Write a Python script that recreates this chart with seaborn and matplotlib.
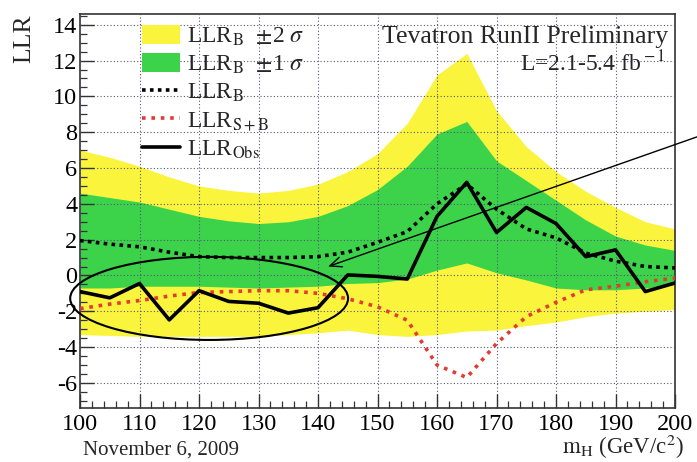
import matplotlib
matplotlib.use("Agg")
import matplotlib.pyplot as plt
import numpy as np
import pandas as pd
import seaborn as sns
from matplotlib.patches import Ellipse, Patch
from matplotlib.lines import Line2D
from matplotlib.ticker import MultipleLocator

# ---- data ----
mass = [100, 105, 110, 115, 120, 125, 130, 135, 140, 145, 150,
        155, 160, 165, 170, 175, 180, 185, 190, 195, 200]
llr_obs = [-0.9, -1.25, -0.45, -2.48, -0.85, -1.45, -1.55, -2.1, -1.8, 0.03, -0.05,
           -0.2, 3.3, 5.2, 2.4, 3.8, 2.9, 1.05, 1.43, -0.9, -0.42]
llr_b = [1.95, 1.75, 1.6, 1.3, 1.05, 1.0, 1.0, 1.0, 1.05, 1.3, 1.85,
         2.45, 4.0, 5.1, 3.7, 2.6, 2.1, 1.25, 0.8, 0.5, 0.42]
llr_sb = [-1.85, -1.6, -1.4, -1.15, -0.95, -0.9, -0.85, -0.85, -1.0, -1.3, -1.75,
          -2.5, -5.0, -5.7, -3.8, -2.3, -1.5, -0.8, -0.6, -0.35, -0.15]
b_p2 = [7.0, 6.6, 6.1, 5.5, 5.0, 4.75, 4.6, 4.75, 5.1, 5.8, 6.8,
        8.5, 11.2, 12.4, 9.2, 7.2, 5.8, 4.7, 3.8, 3.0, 2.6]
b_p1 = [4.6, 4.35, 4.1, 3.7, 3.3, 3.05, 2.9, 3.0, 3.3, 3.9, 4.8,
        6.1, 7.9, 8.6, 6.4, 5.3, 4.2, 3.1, 2.2, 1.7, 1.4]
b_m1 = [-0.7, -0.7, -0.6, -0.6, -0.6, -0.65, -0.7, -0.65, -0.6, -0.45, -0.4,
        -0.2, 0.3, 0.7, 0.15, -0.25, -0.7, -0.8, -0.8, -0.7, -0.5]
b_m2 = [-3.3, -3.35, -3.4, -3.4, -3.4, -3.4, -3.4, -3.3, -3.2, -3.05, -3.3,
        -3.4, -3.3, -3.1, -3.05, -2.8, -2.6, -2.3, -2.1, -2.0, -1.9]

xticks = [100, 110, 120, 130, 140, 150, 160, 170, 180, 190, 200]
yticks = [-6, -4, -2, 0, 2, 4, 6, 8, 10, 12, 14]
ytick_labels = ["-6", "-4", "-2", "0", "2", "4", "6", "8", "10", "12", "14"]

legend_labels = [r"LLR$_{\rm B}$  $\pm$2 $\sigma$",
                 r"LLR$_{\rm B}$  $\pm$1 $\sigma$",
                 r"LLR$_{\rm B}$",
                 r"LLR$_{\rm S+B}$",
                 r"LLR$_{\rm Obs}$"]

YELLOW = "#FAF43C"
GREEN = "#3CD34A"
RED = "#E53A32"

df = pd.DataFrame({"mass": mass, "obs": llr_obs, "b": llr_b, "sb": llr_sb})

sns.set_theme(style="white")
plt.rcParams["font.family"] = ["Liberation Serif", "DejaVu Serif"]
plt.rcParams["mathtext.fontset"] = "stix"
plt.rcParams["axes.unicode_minus"] = False

fig = plt.figure(figsize=(6.97, 4.62), dpi=100)
ax = fig.add_axes([0.1148, 0.1169, 0.8537, 0.8528])

ax.fill_between(mass, b_m2, b_p2, color=YELLOW, lw=0, zorder=1)
ax.fill_between(mass, b_m1, b_p1, color=GREEN, lw=0, zorder=1.1)

sns.lineplot(data=df, x="mass", y="b", ax=ax, color="black", lw=2.6,
             linestyle=(0, (1, 1.2)), zorder=3)
sns.lineplot(data=df, x="mass", y="sb", ax=ax, color=RED, lw=2.6,
             linestyle=(0, (1, 1.6)), zorder=3)
sns.lineplot(data=df, x="mass", y="obs", ax=ax, color="black", lw=2.6, zorder=4)

ax.set_xlim(100, 200)
ax.set_ylim(-7.4, 14.6)
ax.set_xticks(xticks)
ax.set_xticklabels([str(t) for t in xticks])
ax.set_yticks(yticks)
ax.set_yticklabels(ytick_labels)
ax.xaxis.set_minor_locator(MultipleLocator(2))
ax.yaxis.set_minor_locator(MultipleLocator(0.5))
ax.tick_params(which="both", direction="in", top=False, right=False,
               bottom=True, left=True, labelsize=17.5, colors="black",
               color="#333333")
ax.tick_params(which="major", length=10, width=1.0)
ax.tick_params(which="minor", length=5, width=0.9)
ax.tick_params(axis="x", pad=4)
ax.tick_params(axis="y", pad=2)

ax.set_axisbelow(False)
ax.grid(True, which="major", linestyle=(0, (1, 2)), color="#555577", lw=0.8)
for g in ax.get_xgridlines() + ax.get_ygridlines():
    g.set_zorder(2)
for s in ax.spines.values():
    s.set_color("#333333")
    s.set_linewidth(1.2)

ax.set_xlabel(r"$\mathrm{m_H}$ (GeV/c$^{2}$)", fontsize=16.5, loc="right")
ax.xaxis.set_label_coords(1.015, -0.064)
ax.set_ylabel("LLR", fontsize=18.5, loc="top")
ax.yaxis.set_label_coords(-0.075, 1.0)

handles = [Patch(facecolor=YELLOW, edgecolor="none"),
           Patch(facecolor=GREEN, edgecolor="none"),
           Line2D([], [], color="black", lw=2.6, linestyle=(0, (1, 1.2))),
           Line2D([], [], color=RED, lw=2.6, linestyle=(0, (1, 1.6))),
           Line2D([], [], color="black", lw=2.6)]
leg = ax.legend(handles, legend_labels, loc="upper left",
                bbox_to_anchor=(0.104, 0.972), frameon=False, fontsize=17,
                handlelength=1.6, handleheight=0.85, handletextpad=0.3,
                labelspacing=0.22, borderpad=0, borderaxespad=0)
leg.set_zorder(6)

ax.text(0.988, 0.926, "Tevatron RunII Preliminary", transform=ax.transAxes,
        ha="right", va="baseline", fontsize=18.5, zorder=6)
ax.text(0.983, 0.855, r"L=2.1-5.4 fb$^{\rm -1}$", transform=ax.transAxes,
        ha="right", va="baseline", fontsize=17, zorder=6)
fig.text(83 / 697, 1 - 450 / 462, "November 6, 2009", ha="left", va="center",
         fontsize=15)

ell = Ellipse((121.7, -1.28), width=46.7, height=4.64, fill=False,
              edgecolor="black", lw=1.5, clip_on=False, zorder=5)
ax.add_patch(ell)
ax.annotate("", xy=(141.7, 0.5), xytext=(203.7, 7.74),
            arrowprops=dict(arrowstyle="->,head_length=0.7,head_width=0.3",
                            lw=1.0, color="black", shrinkA=0, shrinkB=0),
            annotation_clip=False, zorder=5)

fig.savefig("out.png", dpi=100)
